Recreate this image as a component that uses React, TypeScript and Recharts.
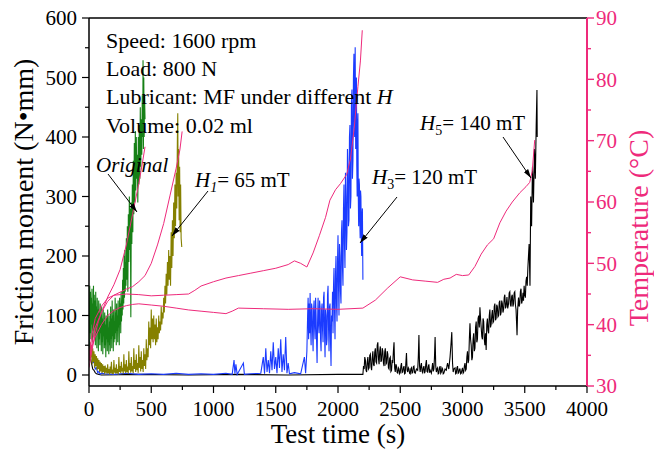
import React from 'react'
import { LineChart, Line, XAxis, YAxis, ReferenceLine } from 'recharts'

const FONT = '"Liberation Serif", "Times New Roman", serif'
const PINK = '#ee2a7b'

// tick labels
const xTicks = [0, 250, 500, 750, 1000, 1250, 1500, 1750, 2000, 2250, 2500, 2750, 3000, 3250, 3500, 3750, 4000]
const frictionTicks = [0, 50, 100, 150, 200, 250, 300, 350, 400, 450, 500, 550, 600]
const tempTicks = [30, 35, 40, 45, 50, 55, 60, 65, 70, 75, 80, 85, 90]

// friction moment (N.mm) vs time (s)
const originalFriction: [number, number][] = [
  [0, 25], [3, 90], [6, 150], [9, 70], [12, 140], [15, 60], [18, 130], [21, 85], [24, 145], [27, 55],
  [30, 120], [33, 75], [36, 150], [39, 65], [42, 135], [45, 80], [48, 125], [51, 50], [54, 140], [57, 70],
  [60, 115], [63, 45], [66, 130], [69, 80], [72, 110], [75, 40], [78, 125], [81, 60], [84, 105], [87, 50],
  [90, 120], [93, 70], [96, 100], [99, 40], [102, 115], [105, 55], [108, 95], [111, 35], [114, 110], [117, 65],
  [120, 90], [123, 45], [126, 105], [129, 50], [132, 85], [135, 30], [138, 100], [141, 60], [144, 95], [147, 40],
  [150, 110], [153, 55], [156, 80], [159, 35], [162, 100], [165, 50], [168, 90], [171, 40], [174, 115], [177, 60],
  [180, 95], [183, 45], [186, 125], [189, 65], [192, 100], [195, 40], [198, 110], [201, 55], [204, 90], [207, 60],
  [210, 130], [213, 70], [216, 105], [219, 50], [222, 120], [225, 75], [228, 100], [231, 55], [234, 125], [237, 80],
  [240, 110], [243, 50], [246, 130], [249, 85], [252, 120], [255, 70], [258, 140], [261, 90], [264, 125], [267, 100],
  [270, 160], [273, 110], [276, 180], [279, 120], [282, 200], [285, 130], [288, 210], [291, 140], [294, 190], [297, 150],
  [300, 230], [304, 160], [308, 250], [312, 140], [316, 270], [320, 190], [324, 300], [328, 210], [332, 280], [336, 97],
  [340, 290], [344, 220], [348, 320], [352, 240], [356, 360], [360, 270], [364, 390], [368, 290], [372, 410], [376, 310],
  [380, 400], [384, 330], [388, 370], [392, 290], [396, 400], [400, 320], [404, 420], [408, 330], [412, 450], [416, 350],
  [420, 430], [424, 370], [428, 470], [432, 400], [434, 529], [437, 380], [440, 500], [443, 400], [446, 470], [450, 430],
]
const h1Friction: [number, number][] = [
  [0, 45], [5, 25], [10, 55], [15, 30], [20, 50], [25, 18], [30, 45], [35, 22], [40, 40], [45, 12],
  [50, 35], [55, 15], [60, 32], [65, 8], [70, 28], [75, 10], [80, 25], [85, 5], [90, 22], [95, 6],
  [100, 20], [105, 3], [110, 18], [115, 5], [120, 15], [125, 2], [130, 16], [135, 4], [140, 12], [145, 2],
  [150, 18], [155, 3], [160, 10], [165, 1], [170, 14], [175, 3], [180, 22], [185, 2], [190, 9], [195, 1],
  [200, 25], [205, 4], [210, 12], [215, 2], [220, 18], [225, 3], [230, 10], [235, 1], [240, 30], [245, 5],
  [250, 15], [255, 3], [260, 22], [265, 6], [270, 12], [275, 2], [280, 35], [285, 6], [290, 18], [295, 3],
  [300, 25], [305, 5], [310, 14], [315, 2], [320, 40], [325, 8], [330, 20], [335, 4], [340, 30], [345, 6],
  [350, 15], [355, 3], [360, 45], [365, 10], [370, 25], [375, 5], [380, 35], [385, 8], [390, 20], [395, 4],
  [400, 50], [405, 12], [410, 30], [415, 6], [420, 40], [425, 10], [430, 25], [435, 5], [440, 45], [445, 15],
  [450, 35], [455, 10], [460, 60], [465, 25], [470, 45], [475, 30], [480, 90], [485, 50], [490, 80], [495, 45],
  [500, 110], [505, 60], [510, 95], [515, 55], [520, 100], [525, 60], [530, 85], [535, 50], [540, 95], [545, 55],
  [550, 80], [555, 60], [560, 100], [565, 70], [570, 90], [575, 75], [580, 115], [585, 85], [590, 105], [595, 95],
  [600, 130], [605, 105], [610, 150], [615, 120], [620, 170], [625, 135], [630, 190], [635, 150], [640, 210], [645, 160],
  [650, 200], [655, 150], [660, 240], [665, 180], [670, 260], [675, 200], [680, 290], [685, 230], [690, 320], [695, 250],
  [700, 340], [705, 280], [710, 400], [713, 440], [716, 300], [720, 380], [724, 260], [728, 350], [732, 240], [736, 320],
  [740, 230], [745, 215],
]
const h3Friction: [number, number][] = [
  [0, 60], [10, 35], [20, 45], [30, 20], [40, 25], [50, 10], [60, 12], [70, 4], [80, 6], [90, 1],
  [100, 3], [130, 2], [200, 1], [300, 3], [400, 1], [500, 2], [600, 1], [700, 3], [800, 1], [900, 2],
  [1000, 1], [1100, 3], [1150, 1], [1165, 25], [1172, 2], [1180, 18], [1190, 1], [1240, 20], [1248, 1], [1300, 2],
  [1380, 3], [1400, 30], [1410, 2], [1420, 45], [1430, 5], [1440, 25], [1450, 3], [1460, 40], [1470, 8], [1480, 55],
  [1490, 10], [1500, 30], [1510, 3], [1520, 45], [1530, 12], [1540, 60], [1550, 5], [1560, 35], [1570, 8], [1580, 64],
  [1590, 3], [1600, 20], [1610, 2], [1650, 4], [1700, 2], [1730, 30], [1740, 3], [1750, 40], [1756, 100], [1760, 130],
  [1764, 60], [1768, 120], [1772, 70], [1776, 138], [1780, 80], [1784, 50], [1788, 120], [1792, 110], [1796, 70], [1800, 40],
  [1804, 110], [1808, 125], [1812, 80], [1816, 60], [1820, 130], [1824, 100], [1828, 55], [1832, 20], [1836, 90], [1840, 130],
  [1844, 85], [1848, 70], [1852, 125], [1856, 115], [1860, 60], [1864, 40], [1868, 110], [1872, 120], [1876, 75], [1880, 55],
  [1884, 130], [1888, 140], [1892, 70], [1896, 30], [1900, 110], [1904, 100], [1908, 50], [1912, 60], [1916, 135], [1920, 150],
  [1924, 80], [1928, 40], [1932, 115], [1936, 120], [1940, 55], [1944, 15], [1948, 100], [1952, 90], [1956, 140], [1960, 70],
  [1964, 150], [1968, 180], [1972, 110], [1976, 60], [1980, 170], [1984, 200], [1988, 120], [1992, 90], [1996, 190], [2000, 235],
  [2004, 150], [2008, 100], [2012, 220], [2016, 200], [2020, 140], [2024, 120], [2028, 240], [2032, 260], [2036, 180], [2040, 150],
  [2044, 280], [2048, 320], [2052, 220], [2056, 180], [2060, 340], [2064, 300], [2068, 210], [2072, 240], [2076, 380], [2080, 350],
  [2084, 250], [2088, 260], [2092, 400], [2096, 420], [2100, 280], [2104, 300], [2108, 460], [2112, 480], [2116, 330], [2120, 360],
  [2124, 500], [2128, 540], [2131, 420], [2134, 400], [2138, 551], [2142, 380], [2145, 470], [2148, 500], [2151, 350], [2154, 300],
  [2157, 420], [2160, 440], [2163, 300], [2166, 250], [2169, 330], [2172, 320], [2175, 260], [2178, 230], [2181, 310], [2184, 300],
  [2187, 240], [2190, 200], [2193, 270], [2196, 280], [2200, 160],
]
const h5Friction: [number, number][] = [
  [0, 50], [10, 30], [20, 20], [30, 10], [40, 8], [50, 4], [60, 2], [80, 1], [100, 0], [400, 1],
  [800, 0], [1200, 1], [1600, 0], [2000, 1], [2200, 1], [2205, 15], [2210, 10], [2215, 30], [2220, 25], [2225, 8],
  [2230, 5], [2235, 22], [2240, 30], [2245, 10], [2250, 12], [2255, 33], [2260, 35], [2265, 14], [2270, 8], [2275, 28],
  [2280, 40], [2285, 18], [2290, 15], [2295, 38], [2300, 45], [2305, 22], [2310, 20], [2315, 50], [2320, 55], [2325, 28],
  [2330, 18], [2335, 40], [2340, 48], [2345, 22], [2350, 25], [2355, 45], [2360, 40], [2365, 20], [2370, 15], [2375, 38],
  [2380, 45], [2385, 18], [2390, 20], [2395, 40], [2400, 35], [2405, 12], [2410, 10], [2415, 28], [2420, 30], [2425, 6],
  [2430, 8], [2435, 25], [2440, 20], [2445, 40], [2450, 55], [2455, 12], [2460, 5], [2465, 18], [2470, 15], [2475, 4],
  [2480, 3], [2485, 12], [2490, 10], [2495, 2], [2500, 4], [2505, 15], [2510, 20], [2515, 4], [2520, 5], [2525, 12],
  [2530, 15], [2535, 2], [2540, 3], [2545, 20], [2550, 37], [2555, 8], [2560, 5], [2565, 12], [2570, 10], [2575, 3],
  [2580, 2], [2585, 10], [2590, 12], [2595, 3], [2600, 4], [2605, 14], [2610, 15], [2615, 4], [2620, 3], [2630, 10],
  [2640, 8], [2645, 30], [2650, 67], [2655, 15], [2660, 5], [2665, 15], [2670, 20], [2675, 6], [2680, 4], [2685, 12],
  [2690, 15], [2695, 3], [2700, 6], [2705, 18], [2710, 25], [2715, 6], [2720, 5], [2725, 14], [2730, 18], [2735, 4],
  [2740, 8], [2750, 3], [2760, 20], [2765, 6], [2770, 10], [2775, 30], [2780, 64], [2785, 15], [2790, 5], [2795, 10],
  [2800, 12], [2805, 2], [2810, 3], [2815, 12], [2820, 15], [2825, 3], [2830, 5], [2835, 12], [2840, 10], [2845, 2],
  [2850, 3], [2860, 10], [2870, 8], [2875, 15], [2880, 20], [2890, 10], [2900, 30], [2907, 50], [2914, 72], [2920, 20],
  [2925, 5], [2930, 10], [2940, 12], [2945, 2], [2950, 3], [2955, 12], [2960, 15], [2965, 3], [2970, 4], [2975, 10],
  [2980, 10], [2985, 2], [2990, 3], [2995, 8], [3000, 12], [3005, 3], [3010, 5], [3015, 15], [3020, 20], [3025, 8],
  [3030, 10], [3035, 30], [3040, 40], [3045, 20], [3050, 25], [3055, 60], [3060, 87], [3065, 60], [3070, 50], [3075, 25],
  [3080, 30], [3085, 60], [3090, 70], [3095, 40], [3100, 45], [3105, 80], [3110, 90], [3115, 55], [3120, 60], [3125, 95],
  [3130, 100], [3135, 80], [3140, 114], [3145, 95], [3150, 80], [3155, 65], [3160, 60], [3165, 95], [3170, 90], [3175, 60],
  [3180, 50], [3185, 70], [3190, 42], [3195, 85], [3200, 95], [3205, 75], [3210, 70], [3215, 100], [3220, 110], [3225, 80],
  [3230, 85], [3235, 100], [3240, 109], [3245, 88], [3250, 90], [3255, 115], [3260, 120], [3265, 92], [3270, 95], [3275, 118],
  [3280, 115], [3285, 98], [3290, 100], [3295, 122], [3300, 125], [3305, 100], [3310, 105], [3315, 125], [3320, 120], [3325, 105],
  [3330, 110], [3335, 130], [3340, 135], [3345, 112], [3350, 115], [3357, 131], [3363, 112], [3370, 120], [3375, 138], [3380, 140],
  [3385, 118], [3390, 115], [3395, 132], [3400, 135], [3405, 115], [3410, 120], [3415, 138], [3420, 140], [3425, 118], [3430, 110],
  [3434, 90], [3438, 67], [3443, 110], [3450, 130], [3455, 115], [3460, 120], [3465, 140], [3470, 145], [3475, 120], [3480, 125],
  [3486, 138], [3490, 125], [3495, 150], [3500, 135], [3505, 130], [3510, 158], [3515, 165], [3520, 150], [3525, 180], [3530, 200],
  [3535, 220], [3542, 150], [3548, 300], [3555, 250], [3562, 350], [3570, 290], [3578, 380], [3585, 330], [3592, 420], [3598, 479],
  [3600, 400],
]

// temperature (°C) vs time (s)
const originalTemp: [number, number][] = [
  [0, 33], [25, 36], [50, 38.5], [75, 40.5], [100, 42], [150, 44.5], [200, 46.5], [250, 49], [300, 53], [350, 58],
  [400, 63], [430, 66.5], [450, 69],
]
const h1Temp: [number, number][] = [
  [0, 34], [25, 37], [50, 39.5], [100, 42], [150, 43.8], [200, 44.8], [250, 45.3], [300, 45.8], [350, 46.2], [400, 47],
  [450, 48], [500, 50], [550, 53], [600, 56.5], [650, 61], [700, 65.5], [730, 68.5], [748, 71.5],
]
const h3Temp: [number, number][] = [
  [0, 35], [25, 38.5], [50, 41], [100, 43], [150, 44.3], [200, 44.8], [300, 45], [400, 44.9], [500, 44.7], [600, 44.8],
  [700, 44.9], [800, 45], [850, 45.6], [900, 46.3], [1000, 47], [1100, 47.6], [1200, 48], [1300, 48.4], [1400, 48.8], [1500, 49.2],
  [1600, 49.8], [1650, 50.4], [1700, 50], [1750, 49.4], [1800, 51.7], [1850, 54.5], [1900, 57.5], [1935, 60.3], [1980, 62], [2020, 63],
  [2070, 64.5], [2100, 67], [2130, 72], [2160, 78.8], [2180, 83], [2195, 88],
]
const h5Temp: [number, number][] = [
  [0, 34.5], [25, 36.5], [50, 38], [100, 40], [150, 41.5], [200, 42.3], [250, 42.8], [300, 43.1], [350, 43.3], [400, 43.4],
  [500, 43.2], [600, 43], [700, 42.7], [800, 42.4], [900, 42.2], [1000, 42], [1100, 41.8], [1150, 42.2], [1200, 42.7], [1400, 42.6],
  [1600, 42.5], [1800, 42.6], [2000, 42.5], [2200, 42.7], [2300, 44], [2400, 46], [2500, 47.8], [2600, 47.3], [2700, 47.1], [2800, 46.9],
  [2850, 47.4], [2900, 47.6], [2950, 48.2], [3000, 48], [3050, 48.1], [3100, 49.5], [3150, 51.5], [3200, 53], [3250, 54], [3300, 56.6],
  [3350, 58.5], [3400, 60], [3460, 61.5], [3510, 62.5], [3540, 63.2], [3560, 65], [3580, 70.1],
]

const pts = (a: [number, number][]) => a.map(([t, v]) => ({ t, v }))

const W = 654
const H = 453
const AX_L = 89
const AX_R = 587
const AX_B = 386

function LeftTick(props: any) {
  const { y, payload } = props
  const major = payload.value % 100 === 0
  return (
    <g>
      <line x1={AX_L - (major ? 7 : 4)} x2={AX_L} y1={y} y2={y} stroke="#000" strokeWidth={1.2} />
      {major && (
        <text x={AX_L - 12} y={y} dy="0.35em" textAnchor="end" fontSize={21} fontFamily={FONT} fill="#000">
          {payload.value}
        </text>
      )}
    </g>
  )
}

function RightTick(props: any) {
  const { y, payload } = props
  const major = payload.value % 10 === 0
  return (
    <g>
      <line x1={AX_R} x2={AX_R + (major ? 7 : 4)} y1={y} y2={y} stroke={PINK} strokeWidth={1.4} />
      {major && (
        <text x={AX_R + 9} y={y} dy="0.35em" textAnchor="start" fontSize={21} fontFamily={FONT} fill={PINK}>
          {payload.value}
        </text>
      )}
    </g>
  )
}

function BottomTick(props: any) {
  const { x, payload } = props
  const major = payload.value % 500 === 0
  return (
    <g>
      <line x1={x} x2={x} y1={AX_B} y2={AX_B + (major ? 7 : 4)} stroke="#000" strokeWidth={1.2} />
      {major && (
        <text x={x} y={AX_B + 30} textAnchor="middle" fontSize={21} fontFamily={FONT} fill="#000">
          {payload.value}
        </text>
      )}
    </g>
  )
}

function Arrow({ x1, y1, x2, y2 }: { x1: number; y1: number; x2: number; y2: number }) {
  return <line x1={x1} y1={y1} x2={x2} y2={y2} stroke="#000" strokeWidth={1} markerEnd="url(#arrowHead)" />
}

export default function App() {
  return (
    <div style={{ position: 'absolute', left: 0, top: 0, width: W, height: H, background: '#fff' }}>
      <LineChart width={W} height={H} margin={{ top: 18, right: 0, bottom: 0, left: 0 }}>
        <XAxis
          type="number"
          dataKey="t"
          domain={[0, 4000]}
          ticks={xTicks}
          interval={0}
          height={67}
          allowDataOverflow
          axisLine={{ stroke: '#000', strokeWidth: 1.5 }}
          tickLine={false}
          tick={<BottomTick />}
        />
        <YAxis
          yAxisId="left"
          type="number"
          domain={[-18.5, 600]}
          ticks={frictionTicks}
          interval={0}
          width={89}
          allowDataOverflow
          axisLine={{ stroke: '#000', strokeWidth: 1.5 }}
          tickLine={false}
          tick={<LeftTick />}
        />
        <YAxis
          yAxisId="right"
          orientation="right"
          type="number"
          domain={[30, 90]}
          ticks={tempTicks}
          interval={0}
          width={67}
          allowDataOverflow
          axisLine={{ stroke: PINK, strokeWidth: 2 }}
          tickLine={false}
          tick={<RightTick />}
        />
        <ReferenceLine yAxisId="left" y={600} stroke="#000" strokeWidth={1.5} />
        <Line yAxisId="left" data={pts(h5Friction)} dataKey="v" stroke="#000" strokeWidth={1.1} dot={false} isAnimationActive={false} />
        <Line yAxisId="left" data={pts(h3Friction)} dataKey="v" stroke="#1b3bff" strokeWidth={1.1} dot={false} isAnimationActive={false} />
        <Line yAxisId="left" data={pts(h1Friction)} dataKey="v" stroke="#858000" strokeWidth={1.1} dot={false} isAnimationActive={false} />
        <Line yAxisId="left" data={pts(originalFriction)} dataKey="v" stroke="#168016" strokeWidth={1.1} dot={false} isAnimationActive={false} />
        <Line yAxisId="right" data={pts(originalTemp)} dataKey="v" stroke={PINK} strokeWidth={1} dot={false} isAnimationActive={false} />
        <Line yAxisId="right" data={pts(h1Temp)} dataKey="v" stroke={PINK} strokeWidth={1} dot={false} isAnimationActive={false} />
        <Line yAxisId="right" data={pts(h3Temp)} dataKey="v" stroke={PINK} strokeWidth={1} dot={false} isAnimationActive={false} />
        <Line yAxisId="right" data={pts(h5Temp)} dataKey="v" stroke={PINK} strokeWidth={1} dot={false} isAnimationActive={false} />
      </LineChart>

      <svg width={W} height={H} style={{ position: 'absolute', left: 0, top: 0, pointerEvents: 'none' }} fontFamily={FONT}>
        <defs>
          <marker id="arrowHead" viewBox="0 0 10 6" refX="10" refY="3" markerWidth="9" markerHeight="5.5" markerUnits="userSpaceOnUse" orient="auto">
            <path d="M0,0 L10,3 L0,6 z" fill="#000" />
          </marker>
        </defs>

        <text x={33} y={202} transform="rotate(-90 33 202)" textAnchor="middle" fontSize={28} fill="#000">
          Friction moment (N•mm)
        </text>
        <text x={338} y={443} textAnchor="middle" fontSize={27} fill="#000">
          Test time (s)
        </text>
        <text x={648} y={228} transform="rotate(-90 648 228)" textAnchor="middle" fontSize={28} fill={PINK}>
          Temperature (°C)
        </text>

        <g fontSize={22} fill="#000">
          <text x={106} y={48}>Speed: 1600 rpm</text>
          <text x={106} y={76}>Load: 800 N</text>
          <text x={106} y={104}>
            Lubricant: MF under different <tspan fontStyle="italic">H</tspan>
          </text>
          <text x={106} y={133}>Volume: 0.02 ml</text>
        </g>

        <g fontSize={21} fill="#000">
          <text x={96} y={172} fontStyle="italic">Original</text>
          <text x={195} y={187}>
            <tspan fontStyle="italic">H</tspan>
            <tspan fontSize={14} fontStyle="italic" dy={5}>1</tspan>
            <tspan dy={-5}>= 65 mT</tspan>
          </text>
          <text x={372} y={184}>
            <tspan fontStyle="italic">H</tspan>
            <tspan fontSize={14} dy={5}>3</tspan>
            <tspan dy={-5}>= 120 mT</tspan>
          </text>
          <text x={420} y={130}>
            <tspan fontStyle="italic">H</tspan>
            <tspan fontSize={14} dy={5}>5</tspan>
            <tspan dy={-5}>= 140 mT</tspan>
          </text>
        </g>

        <Arrow x1={108} y1={174} x2={137} y2={212} />
        <Arrow x1={208} y1={191} x2={172} y2={236} />
        <Arrow x1={397} y1={197} x2={360} y2={243} />
        <Arrow x1={503} y1={137} x2={531} y2={178} />
      </svg>
    </div>
  )
}
